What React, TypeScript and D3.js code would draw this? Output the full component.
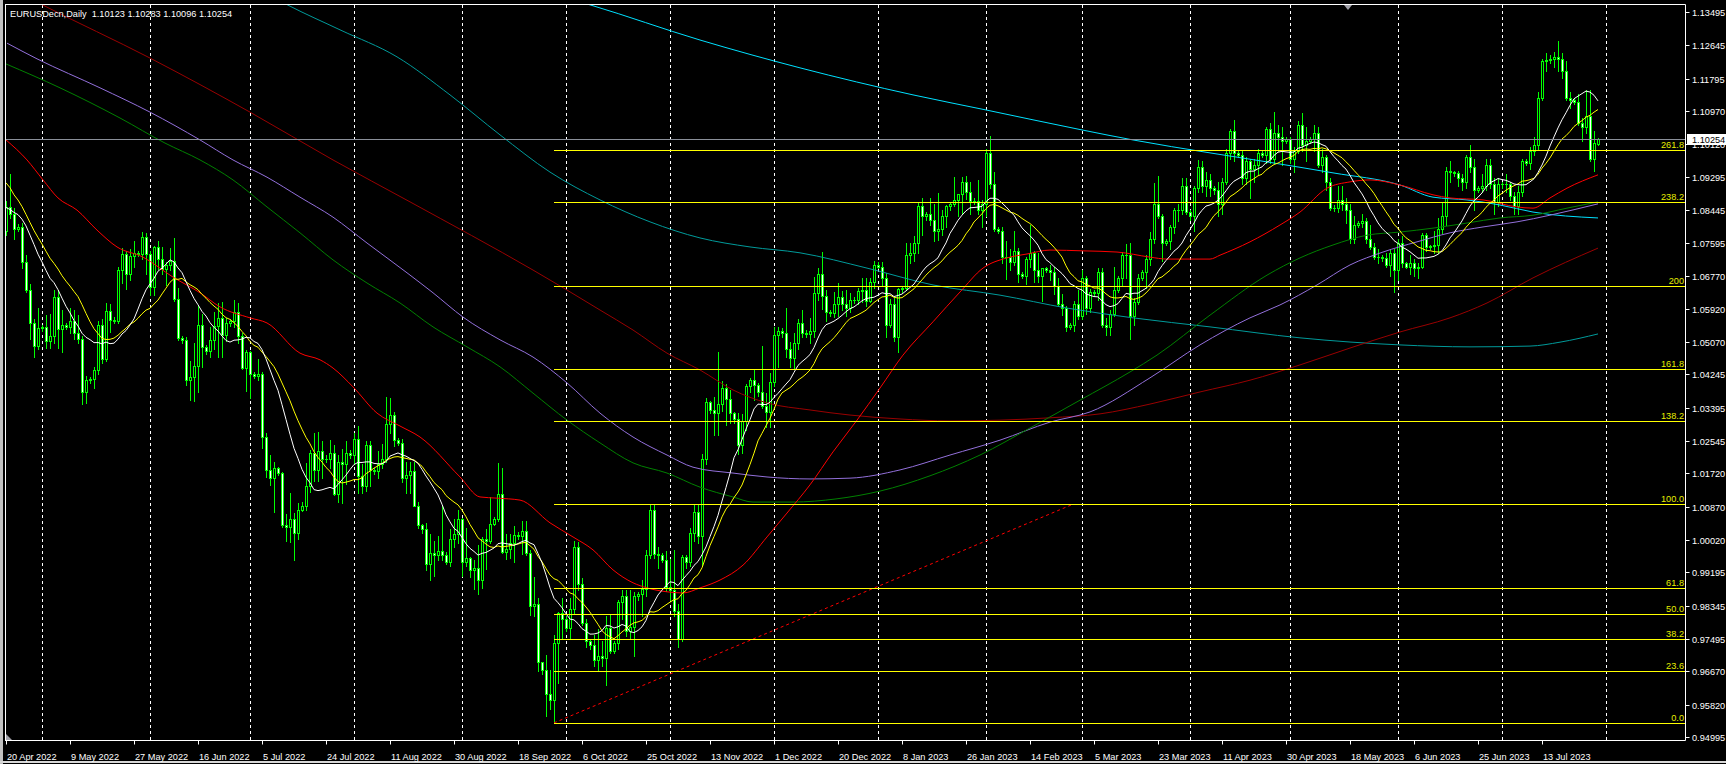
import React, { useMemo } from "react";
import * as d3 from "d3";

const W = 1726;
const H = 764;

// Daily candles, [open, high, low, close] in units of 0.0001 (Sunday bars included)
const apr22 = [
  [10790,10866,10781,10853],[10853,10936,10825,10835],[10835,10850,10770,10796],[10796,10808,10790,10800],
  [10800,10812,10697,10712],[10712,10730,10636,10640],[10640,10655,10515,10555],[10555,10565,10470,10497],
  [10497,10594,10490,10543],
];
const may22 = [
  [10543,10552,10536,10546],[10546,10576,10492,10510],[10510,10580,10492,10523],[10523,10641,10505,10622],
  [10622,10640,10493,10541],[10541,10590,10483,10550],[10550,10556,10540,10545],[10545,10594,10530,10560],
  [10560,10590,10515,10530],[10530,10577,10505,10515],[10515,10522,10350,10380],[10380,10420,10352,10410],
  [10410,10418,10402,10413],[10413,10444,10389,10436],[10436,10560,10427,10550],[10550,10565,10455,10464],
  [10464,10608,10458,10586],[10586,10605,10532,10564],[10564,10572,10556,10560],[10560,10698,10555,10690],
  [10690,10748,10657,10733],[10733,10740,10642,10682],[10682,10745,10665,10728],[10728,10765,10700,10734],
  [10734,10740,10726,10731],[10731,10787,10718,10776],[10776,10786,10680,10733],
];
const jun22 = [
  [10733,10740,10627,10649],[10649,10752,10628,10750],[10750,10765,10693,10718],[10718,10750,10680,10694],
  [10694,10711,10654,10705],[10705,10748,10690,10715],[10715,10774,10613,10618],[10618,10644,10512,10517],
  [10517,10524,10506,10512],[10512,10520,10398,10410],[10410,10460,10359,10417],[10417,10505,10358,10447],
  [10447,10601,10381,10550],[10550,10580,10444,10494],[10494,10500,10478,10485],[10485,10545,10470,10513],
  [10513,10583,10490,10548],[10548,10606,10470,10568],[10568,10610,10470,10525],[10525,10568,10510,10555],
  [10555,10565,10548,10560],[10560,10615,10545,10585],[10585,10606,10505,10522],[10522,10530,10438,10440],
  [10440,10487,10383,10482],
];
const jul22 = [
  [10482,10485,10365,10425],[10425,10432,10415,10420],[10420,10465,10410,10425],[10425,10430,10236,10265],
  [10265,10275,10162,10182],[10182,10218,10143,10160],[10160,10202,10073,10185],[10185,10188,10168,10172],
  [10172,10175,10035,10040],[10040,10068,9999,10035],[10035,10122,9998,10055],[10055,10070,9952,10020],
  [10020,10097,10005,10080],[10080,10098,10075,10090],[10090,10199,10080,10141],[10141,10233,10125,10225],
  [10225,10274,10153,10180],[10180,10278,10153,10230],[10230,10256,10160,10210],[10210,10220,10200,10208],
  [10208,10258,10185,10225],[10225,10245,10118,10120],[10120,10218,10100,10200],[10200,10235,10096,10195],
  [10195,10255,10145,10225],[10225,10232,10212,10218],
];
const aug22 = [
  [10218,10275,10195,10260],[10260,10293,10123,10165],[10165,10196,10123,10140],[10140,10254,10126,10245],
  [10245,10254,10141,10180],[10180,10186,10170,10177],[10177,10230,10160,10195],[10195,10248,10185,10210],
  [10210,10368,10200,10298],[10298,10365,10275,10320],[10320,10330,10243,10258],[10258,10262,10245,10250],
  [10250,10260,10150,10160],[10160,10202,10122,10168],[10168,10202,10123,10178],[10178,10202,10088,10090],
  [10090,10100,10033,10040],[10040,10042,10020,10030],[10030,10045,9926,9942],[9942,10017,9900,9968],
  [9968,9999,9910,9965],[9965,10012,9950,9973],[9973,10090,9950,9965],[9965,9972,9940,9945],
  [9945,10030,9935,10005],[10005,10055,9985,10018],[10018,10080,9995,10055],
];
const sep22 = [
  [10055,10058,9910,9945],[9945,10033,9935,9955],[9955,9960,9909,9925],[9925,9950,9876,9930],
  [9930,9990,9864,9900],[9900,10010,9880,10005],[10005,10030,9929,10000],[10000,10112,9995,10042],
  [10042,10060,10040,10055],[10055,10198,10050,10120],[10120,10187,9968,9972],[9972,10018,9953,9978],
  [9978,10017,9955,9995],[9995,10037,9945,10015],[10015,10022,10005,10012],[10012,10050,9966,10025],
  [10025,10051,9963,9970],[9970,9976,9810,9835],[9835,9908,9808,9840],[9840,9853,9667,9690],
  [9690,9692,9660,9670],[9670,9710,9552,9610],[9610,9670,9570,9595],[9595,9760,9536,9740],
  [9740,9818,9637,9815],[9815,9853,9750,9800],
];
const oct22 = [
  [9800,9808,9770,9778],[9778,9855,9750,9825],[9825,9999,9815,9985],[9985,9998,9875,9890],
  [9890,9905,9785,9790],[9790,9800,9730,9745],[9745,9748,9725,9735],[9735,9760,9680,9695],
  [9695,9775,9670,9705],[9705,9744,9680,9700],[9700,9808,9632,9778],[9778,9810,9715,9720],
  [9720,9745,9715,9740],[9740,9850,9725,9845],[9845,9875,9800,9860],[9860,9875,9757,9770],
  [9770,9875,9750,9780],[9780,9870,9705,9860],[9860,9870,9850,9865],[9865,9900,9808,9876],
  [9876,9977,9860,9965],[9965,10093,9955,10078],[10078,10094,9955,9967],[9967,9985,9930,9963],
  [9963,9968,9945,9950],[9950,9975,9873,9882],
];
const nov22 = [
  [9882,9953,9850,9875],[9875,9976,9808,9820],[9820,9838,9730,9750],[9750,9965,9745,9960],
  [9960,9965,9930,9945],[9945,10033,9935,10020],[10020,10095,10000,10073],[10073,10095,9995,10013],
  [10013,10222,9935,10210],[10210,10364,10195,10355],[10355,10358,10325,10335],[10335,10366,10271,10325],
  [10325,10481,10270,10350],[10350,10408,10332,10390],[10390,10400,10295,10362],[10362,10386,10300,10325],
  [10325,10330,10300,10310],[10310,10327,10222,10245],[10245,10323,10225,10305],[10305,10400,10283,10395],
  [10395,10415,10380,10410],[10410,10435,10360,10398],[10398,10402,10370,10380],[10380,10497,10338,10343],
  [10343,10378,10290,10330],[10330,10428,10290,10405],
];
const dec22 = [
  [10405,10545,10395,10525],[10525,10545,10444,10535],[10535,10542,10520,10530],[10530,10594,10470,10490],
  [10490,10507,10443,10466],[10466,10530,10442,10505],[10505,10566,10490,10555],[10555,10588,10520,10530],
  [10530,10538,10520,10528],[10528,10568,10505,10535],[10535,10673,10520,10632],[10632,10695,10615,10680],
  [10680,10736,10592,10626],[10626,10640,10560,10585],[10585,10590,10575,10582],[10582,10636,10570,10605],
  [10605,10657,10573,10623],[10623,10638,10590,10605],[10605,10641,10573,10595],[10595,10632,10585,10615],
  [10615,10622,10608,10615],[10615,10645,10605,10638],[10638,10672,10610,10640],[10640,10672,10600,10612],
  [10612,10670,10610,10660],[10660,10714,10645,10703],
];
const jan23 = [
  [10703,10712,10695,10700],[10700,10712,10650,10670],[10670,10684,10520,10550],[10550,10618,10545,10605],
  [10605,10620,10510,10520],[10520,10646,10482,10643],[10643,10650,10635,10645],[10645,10760,10640,10730],
  [10730,10760,10710,10735],[10735,10777,10715,10760],[10760,10865,10735,10855],[10855,10875,10780,10830],
  [10830,10840,10820,10835],[10835,10875,10805,10820],[10820,10860,10765,10790],[10790,10887,10768,10795],
  [10795,10845,10780,10830],[10830,10858,10800,10855],[10855,10862,10845,10860],[10860,10928,10855,10870],
  [10870,10885,10830,10885],[10885,10929,10835,10915],[10915,10930,10872,10890],[10890,10915,10835,10868],
  [10868,10875,10860,10866],[10866,10920,10835,10845],[10845,10870,10800,10860],
];
const feb23 = [
  [10860,11000,10830,10990],[10990,11033,10900,10910],[10910,10940,10790,10795],[10795,10802,10785,10790],
  [10790,10800,10710,10725],[10725,10765,10668,10725],[10725,10745,10690,10712],[10712,10790,10705,10740],
  [10740,10748,10660,10680],[10680,10685,10670,10675],[10675,10725,10656,10720],[10720,10805,10700,10735],
  [10735,10740,10660,10690],[10690,10735,10660,10675],[10675,10695,10612,10695],[10695,10700,10685,10690],
  [10690,10705,10665,10685],[10685,10700,10630,10650],[10650,10670,10600,10605],[10605,10630,10577,10595],
  [10595,10600,10535,10545],[10545,10555,10540,10550],[10550,10612,10535,10605],[10605,10640,10565,10575],
];
const mar23 = [
  [10575,10691,10565,10670],[10670,10675,10580,10595],[10595,10643,10585,10635],[10635,10640,10625,10632],
  [10632,10695,10615,10685],[10685,10695,10545,10550],[10550,10568,10525,10545],[10545,10588,10525,10580],
  [10580,10700,10575,10640],[10640,10675,10635,10670],[10670,10737,10652,10730],[10730,10758,10670,10730],
  [10730,10760,10516,10575],[10575,10620,10552,10610],[10610,10680,10605,10670],[10670,10690,10665,10685],
  [10685,10730,10645,10720],[10720,10788,10705,10770],[10770,10912,10760,10860],[10860,10930,10825,10830],
  [10830,10835,10713,10760],[10760,10770,10755,10765],[10765,10805,10745,10800],[10800,10850,10785,10845],
  [10845,10860,10815,10845],[10845,10925,10835,10905],[10905,10925,10835,10840],
];
const apr23 = [
  [10840,10845,10820,10830],[10830,10905,10790,10900],[10900,10973,10890,10955],[10955,10970,10890,10905],
  [10905,10940,10880,10920],[10920,10935,10880,10900],[10900,10905,10885,10895],[10895,10915,10830,10860],
  [10860,10925,10835,10915],[10915,11000,10910,10990],[10990,11050,10975,11045],[11045,11075,10970,10990],
  [10990,10995,10980,10985],[10985,10995,10910,10925],[10925,10980,10910,10970],[10970,10975,10875,10950],
  [10950,10975,10915,10960],[10960,11000,10935,10990],[10990,10995,10980,10985],[10985,11055,10965,11050],
  [11050,11065,10965,10975],[10975,11095,10965,11040],[11040,11060,10995,11030],[11030,11055,10960,11020],
  [11020,11030,11015,11025],
];
const may23 = [
  [11025,11030,10965,10975],[10975,11005,10942,10995],[10995,11072,10990,11060],[11060,11092,10995,11010],
  [11010,11055,10970,11020],[11020,11030,11015,11025],[11025,11060,10995,11040],[11040,11055,10955,10960],
  [10960,11000,10940,10980],[10980,10985,10895,10915],[10915,10925,10845,10850],[10850,10858,10842,10850],
  [10850,10905,10840,10870],[10870,10905,10845,10860],[10860,10875,10810,10845],[10845,10860,10760,10770],
  [10770,10830,10760,10805],[10805,10815,10800,10810],[10810,10835,10800,10815],[10815,10825,10760,10770],
  [10770,10805,10745,10750],[10750,10760,10720,10725],[10725,10745,10710,10725],[10725,10730,10715,10722],
  [10722,10735,10700,10705],[10705,10745,10675,10735],[10735,10745,10635,10690],
];
const jun23 = [
  [10690,10770,10665,10760],[10760,10778,10700,10710],[10710,10712,10695,10700],[10700,10730,10680,10710],
  [10710,10718,10675,10695],[10695,10710,10670,10700],[10700,10785,10695,10780],[10780,10785,10740,10750],
  [10750,10755,10745,10752],[10752,10790,10735,10755],[10755,10825,10735,10795],[10795,10865,10785,10830],
  [10830,10955,10805,10945],[10945,10970,10915,10940],[10940,10945,10930,10938],[10938,10945,10905,10925],
  [10925,10935,10895,10915],[10915,10985,10900,10980],[10980,11010,10940,10955],[10955,10975,10845,10895],
  [10895,10905,10890,10900],[10900,10935,10890,10905],[10905,10975,10895,10960],[10960,10975,10900,10910],
  [10910,10925,10835,10865],[10865,10925,10855,10910],
];
const jul23 = [
  [10910,10915,10900,10910],[10910,10935,10890,10910],[10910,10915,10870,10880],[10880,10890,10835,10855],
  [10855,10905,10835,10890],[10890,10975,10880,10970],[10970,10975,10960,10965],[10965,11005,10950,10995],
  [10995,11030,10985,11010],[11010,11145,11000,11130],[11130,11230,11125,11225],[11225,11245,11200,11228],
  [11228,11240,11220,11230],[11230,11248,11210,11235],[11235,11276,11200,11230],[11230,11245,11180,11200],
  [11200,11225,11125,11130],[11130,11145,11105,11125],[11125,11130,11115,11120],[11120,11140,11060,11065],
  [11065,11080,11020,11055],[11055,11150,11040,11085],[11085,11150,10970,10975],[10975,11045,10945,11015],
  [11012,11028,11010,11025],
];

// closes of the 19 bars before 20 Apr 2022 (for the short moving averages)
const preCloses = [11085,11160,11065,11045,11040,10970,10905,10900,10880,10875,10880,10885,10830,10890,10825,10810,10805,10780,10790];

// long moving averages: [bar index, price]
const maRed = [[0,1.1023],[5.25,1.0972],[9.25,1.0921],[13,1.0875],[17.75,1.0844],[22.75,1.0793],[27.75,1.075],[34.25,1.0724],[41.75,1.0673],[48.5,1.0633],[53.5,1.0597],[61,1.0569],[65.25,1.0556],[73.5,1.0479],[78.5,1.0462],[81.75,1.0441],[86.75,1.0393],[92.75,1.0326],[98.5,1.0293],[103.5,1.0265],[113.5,1.0163],[118.5,1.0112],[122.75,1.0109],[128.5,1.0104],[136,1.0046],[141.75,1.001],[146.75,0.9977],[151.75,0.9926],[156.75,0.9893],[160.25,0.988],[165.25,0.987],[169.25,0.9867],[173.5,0.988],[178.5,0.99],[184.25,0.9938],[190.25,1.001],[195.25,1.0071],[201,1.0143],[206.75,1.0227],[212.75,1.0308],[218.5,1.039],[224.25,1.0474],[231.75,1.0559],[238.5,1.0635],[244.25,1.0696],[250.25,1.0722],[255.25,1.0732],[261,1.0742],[269.25,1.074],[277.75,1.0737],[286,1.0724],[290.25,1.0719],[301,1.0719],[303.5,1.0729],[311,1.0763],[318.5,1.0806],[323.5,1.0839],[330.25,1.09],[336,1.0916],[341,1.0921],[348.5,1.0908],[356.75,1.0883],[361,1.0875],[369.25,1.087],[377.75,1.0852],[381.75,1.0849],[386,1.0875],[390.25,1.09],[398,1.0934]];
const maGreen = [[0,1.1217],[13.5,1.1156],[28.5,1.1079],[39.75,1.1015],[48.5,1.0972],[56.75,1.0921],[65.25,1.0852],[73.5,1.0786],[81.75,1.0717],[90.25,1.0658],[98.5,1.0607],[106.75,1.0546],[115.25,1.0495],[123.5,1.0444],[131.75,1.0377],[140.25,1.0308],[148.5,1.025],[156.75,1.0199],[165.25,1.0173],[173.5,1.0137],[181.75,1.0112],[186.75,1.0099],[196.75,1.0099],[207.5,1.0107],[218.5,1.0127],[231,1.0166],[243.5,1.0219],[256,1.0288],[268.5,1.0359],[281,1.0431],[287.75,1.0474],[301,1.0576],[315.25,1.0678],[323.5,1.0722],[331.75,1.0755],[340.25,1.078],[348.5,1.0788],[356.75,1.0798],[365.25,1.0811],[373.5,1.0824],[381.75,1.0831],[390.25,1.0849],[398,1.0865]];
const maPurple = [[0.25,1.127],[7.75,1.123],[23.5,1.1156],[36,1.1094],[48.5,1.1023],[56.75,1.0972],[65.25,1.0928],[73.5,1.0877],[81.75,1.0826],[90.25,1.076],[100.25,1.0684],[106.75,1.0633],[114.25,1.0571],[123.5,1.0513],[131.75,1.0469],[140.25,1.0403],[148.5,1.0326],[156.75,1.0265],[165.25,1.0219],[171.75,1.0188],[181.75,1.0173],[190.25,1.0163],[201,1.0158],[211,1.016],[223.5,1.0181],[236,1.0219],[248.5,1.0257],[261,1.0303],[271,1.0329],[286,1.0416],[298.5,1.05],[311,1.0569],[318.5,1.0602],[327.75,1.0653],[336,1.0704],[344.25,1.0737],[352.75,1.0763],[361,1.0786],[369.25,1.0801],[377.75,1.0814],[386,1.0831],[398,1.086]];
const maMaroon = [[0,1.1416],[9.25,1.1367],[36,1.1232],[61,1.1094],[81.75,1.0972],[101,1.0865],[131.75,1.0691],[140.25,1.064],[148.5,1.0589],[156.75,1.0538],[165.25,1.0479],[173.5,1.0436],[181.75,1.0385],[190.25,1.0352],[201,1.0334],[211,1.0321],[223.5,1.0311],[236,1.0306],[248.5,1.0308],[261,1.0314],[273.5,1.0324],[286,1.0349],[298.5,1.038],[311,1.041],[323.5,1.0449],[336,1.0492],[348.5,1.0533],[361,1.0569],[370.25,1.0607],[381.75,1.0671],[398,1.0747]];
const maTeal = [[63.5,1.1406],[70.5,1.1367],[83.5,1.1304],[97.75,1.1235],[111,1.1138],[123.5,1.1036],[136,1.0941],[148.5,1.087],[161,1.0814],[173.5,1.0773],[186,1.075],[198.5,1.0735],[215.25,1.0696],[231.75,1.0653],[248.5,1.0627],[265.25,1.0594],[281.75,1.0569],[301,1.0546],[323.5,1.0518],[348.5,1.05],[366,1.0495],[381,1.0497],[388.5,1.0507],[398,1.0528]];
const maCyan = [[138.5,1.139],[146.25,1.1367],[173.5,1.1278],[198.5,1.1207],[226.75,1.1138],[245.25,1.1099],[269.25,1.1048],[281.75,1.1023],[301,1.099],[315.25,1.0967],[331.75,1.0939],[348.5,1.0908],[356.75,1.0877],[365.25,1.087],[373.5,1.0857],[381.75,1.0839],[398,1.0824]];

const priceTicks = [1.13495,1.12645,1.11795,1.1097,1.1012,1.09295,1.08445,1.07595,1.0677,1.0592,1.0507,1.04245,1.03395,1.02545,1.0172,1.0087,1.0002,0.99195,0.98345,0.97495,0.9667,0.9582,0.94995];
const dateTicks = ["20 Apr 2022","9 May 2022","27 May 2022","16 Jun 2022","5 Jul 2022","24 Jul 2022","11 Aug 2022","30 Aug 2022","18 Sep 2022","6 Oct 2022","25 Oct 2022","13 Nov 2022","1 Dec 2022","20 Dec 2022","8 Jan 2023","26 Jan 2023","14 Feb 2023","5 Mar 2023","23 Mar 2023","11 Apr 2023","30 Apr 2023","18 May 2023","6 Jun 2023","25 Jun 2023","13 Jul 2023"];
const dateTickStep = 16;
const missingDays = ["2022-06-05"];

const fiboLevels = [0, 23.6, 38.2, 50, 61.8, 100, 138.2, 161.8, 200, 238.2, 261.8];
const fiboLabels = ["0.0","23.6","38.2","50.0","61.8","100.0","138.2","161.8","200","238.2","261.8"];
const fiboLow = 0.95355;
const fiboHigh = 1.00935;
const fiboStartBar = 137;
const fiboEndBar = 266.75;

const bidPrice = 1.10254;
const titleText = "EURUSDecn,Daily  1.10123 1.10283 1.10096 1.10254";

const FONT = "'Liberation Sans', Arial, sans-serif";
const FS = 9.2;

export default function App() {
  const months = [apr22, may22, jun22, jul22, aug22, sep22, oct22, nov22, dec22, jan23, feb23, mar23, apr23, may23, jun23, jul23];
  const candles = useMemo(
    () => months.flat().map(([o, h, l, c]) => ({ o: o / 1e4, h: h / 1e4, l: l / 1e4, c: c / 1e4 })),
    []
  );
  const n = candles.length;

  const x = d3.scaleLinear().domain([0, 398]).range([6, 1598]);
  const y = d3.scaleLinear().domain([0.94995, 1.13495]).range([737, 12]);

  // trading calendar (Sunday bars included, Saturdays skipped)
  const calendar = useMemo(() => {
    const out: Date[] = [];
    let t = Date.UTC(2022, 3, 20);
    while (out.length < 421) {
      const d = new Date(t);
      const iso = d.toISOString().slice(0, 10);
      if (d.getUTCDay() !== 6 && !missingDays.includes(iso)) out.push(d);
      t += 86400000;
    }
    return out;
  }, []);
  const monthStarts: number[] = [];
  for (let i = 1; i < calendar.length; i++) {
    if (calendar[i].getUTCMonth() !== calendar[i - 1].getUTCMonth()) monthStarts.push(i);
  }

  const closesAll = preCloses.map((v) => v / 1e4).concat(candles.map((c) => c.c));
  const sma = (p: number) => {
    const out: [number, number][] = [];
    for (let i = 0; i < n; i++) {
      const end = i + preCloses.length;
      if (end - p + 1 < 0) continue;
      let s = 0;
      for (let k = 0; k < p; k++) s += closesAll[end - k];
      out.push([i, s / p]);
    }
    return out;
  };
  const sma14 = sma(14);
  const sma20 = sma(20);

  const lineLin = d3.line<number[]>().x((d) => x(d[0])).y((d) => y(d[1]));
  const lineSmooth = d3.line<number[]>().x((d) => x(d[0])).y((d) => y(d[1])).curve(d3.curveMonotoneX);

  const fmt = d3.format(".5f");
  const right = 1685.5;
  const bottom = 740.5;

  return (
    <div style={{ position: "fixed", left: 0, top: 0, width: W, height: H, background: "#000" }}>
      <svg width={W} height={H} style={{ display: "block" }} fontFamily={FONT}>
        <rect x={0} y={0} width={W} height={H} fill="#000" />
        <rect x={0} y={0} width={3} height={H} fill="#c0c0c0" />
        <line x1={0} x2={W} y1={762} y2={762} stroke="#d8d8d8" strokeWidth={2} />
        <defs>
          <clipPath id="plotClip">
            <rect x={5} y={5} width={1680.5} height={735.5} />
          </clipPath>
        </defs>

        {/* monthly grid */}
        {monthStarts.map((i) => {
          const gx = Math.round(x(i)) + 0.5;
          if (gx > right) return null;
          return <line key={"g" + i} x1={gx} x2={gx} y1={5} y2={bottom} stroke="#ffffff" strokeDasharray="3,3" />;
        })}

        <g clipPath="url(#plotClip)">
          {/* candles */}
          {candles.map((d, i) => {
            const cx = Math.round(x(i));
            const top = Math.round(y(Math.max(d.o, d.c)));
            const bot = Math.round(y(Math.min(d.o, d.c)));
            const hy = Math.round(y(d.h));
            const ly = Math.round(y(d.l));
            const bull = d.c >= d.o;
            return (
              <g key={"c" + i}>
                <line x1={cx + 0.5} x2={cx + 0.5} y1={hy} y2={ly + 1} stroke="#00ff00" />
                {bot - top >= 1 ? (
                  <rect x={cx - 0.5} y={top + 0.5} width={2} height={bot - top} fill={bull ? "#000000" : "#ffffff"} stroke="#00ff00" />
                ) : (
                  <line x1={cx - 1} x2={cx + 2} y1={top + 0.5} y2={top + 0.5} stroke="#00ff00" />
                )}
              </g>
            );
          })}

          {/* moving averages */}
          <path d={lineSmooth(maCyan) || ""} fill="none" stroke="#00e0ff" strokeWidth={1} />
          <path d={lineSmooth(maTeal) || ""} fill="none" stroke="#009a9a" strokeWidth={1} />
          <path d={lineSmooth(maMaroon) || ""} fill="none" stroke="#990000" strokeWidth={1} />
          <path d={lineSmooth(maPurple) || ""} fill="none" stroke="#9370db" strokeWidth={1} />
          <path d={lineSmooth(maGreen) || ""} fill="none" stroke="#008000" strokeWidth={1} />
          <path d={lineSmooth(maRed) || ""} fill="none" stroke="#ff0000" strokeWidth={1} />
          <path d={lineLin(sma20) || ""} fill="none" stroke="#ffff00" strokeWidth={1} />
          <path d={lineLin(sma14) || ""} fill="none" stroke="#ffffff" strokeWidth={1} />

          {/* bid line */}
          <line x1={5} x2={right} y1={Math.round(y(bidPrice)) + 0.5} y2={Math.round(y(bidPrice)) + 0.5} stroke="#8a8f99" />

          {/* fibonacci */}
          <line x1={x(fiboStartBar)} y1={y(fiboLow)} x2={x(fiboEndBar)} y2={y(fiboHigh)} stroke="#ff0000" strokeDasharray="3,3" />
          {fiboLevels.map((lv, k) => {
            const p = fiboLow + (fiboHigh - fiboLow) * (lv / 100);
            const fy = Math.round(y(p)) + 0.5;
            return (
              <g key={"f" + k}>
                <line x1={Math.round(x(fiboStartBar))} x2={right} y1={fy} y2={fy} stroke="#ffff00" />
                <text x={1684} y={fy - 2.5} textAnchor="end" fontSize={FS} fill="#e6ee00">{fiboLabels[k]}</text>
              </g>
            );
          })}
        </g>

        {/* frame */}
        <line x1={5} x2={right} y1={4.5} y2={4.5} stroke="#ffffff" />
        <line x1={5.5} x2={5.5} y1={4.5} y2={bottom} stroke="#ffffff" />
        <line x1={right} x2={right} y1={4.5} y2={bottom} stroke="#ffffff" />
        <line x1={5} x2={right} y1={bottom} y2={bottom} stroke="#ffffff" />
        <polygon points="6,734 6,740 12,740" fill="#a0a0a8" />
        <polygon points="1344,5 1352,5 1348,10" fill="#a0a0a8" />

        {/* price axis */}
        {priceTicks.map((p, k) => {
          const ty = Math.round(y(p)) + 0.5;
          return (
            <g key={"p" + k}>
              <line x1={right} x2={right + 4} y1={ty} y2={ty} stroke="#ffffff" />
              <text x={1692} y={ty + 3.3} fontSize={FS} fill="#ffffff">{fmt(p)}</text>
            </g>
          );
        })}
        {(() => {
          const by = Math.round(y(bidPrice));
          return (
            <g>
              <rect x={1687} y={by - 5} width={39} height={11} fill="#ffffff" />
              <text x={1692} y={by + 3.8} fontSize={FS} fill="#000000">{fmt(bidPrice)}</text>
            </g>
          );
        })()}

        {/* time axis */}
        {dateTicks.map((label, k) => {
          const tx = Math.round(x(k * dateTickStep)) + 0.5;
          return (
            <g key={"d" + k}>
              <line x1={tx} x2={tx} y1={bottom} y2={bottom + 4} stroke="#ffffff" />
              <text x={tx + 0.5} y={760} fontSize={FS} fill="#ffffff">{label}</text>
            </g>
          );
        })}

        <text x={10} y={16.5} fontSize={FS} fill="#ffffff" style={{ whiteSpace: "pre" }}>{titleText}</text>
      </svg>
    </div>
  );
}
